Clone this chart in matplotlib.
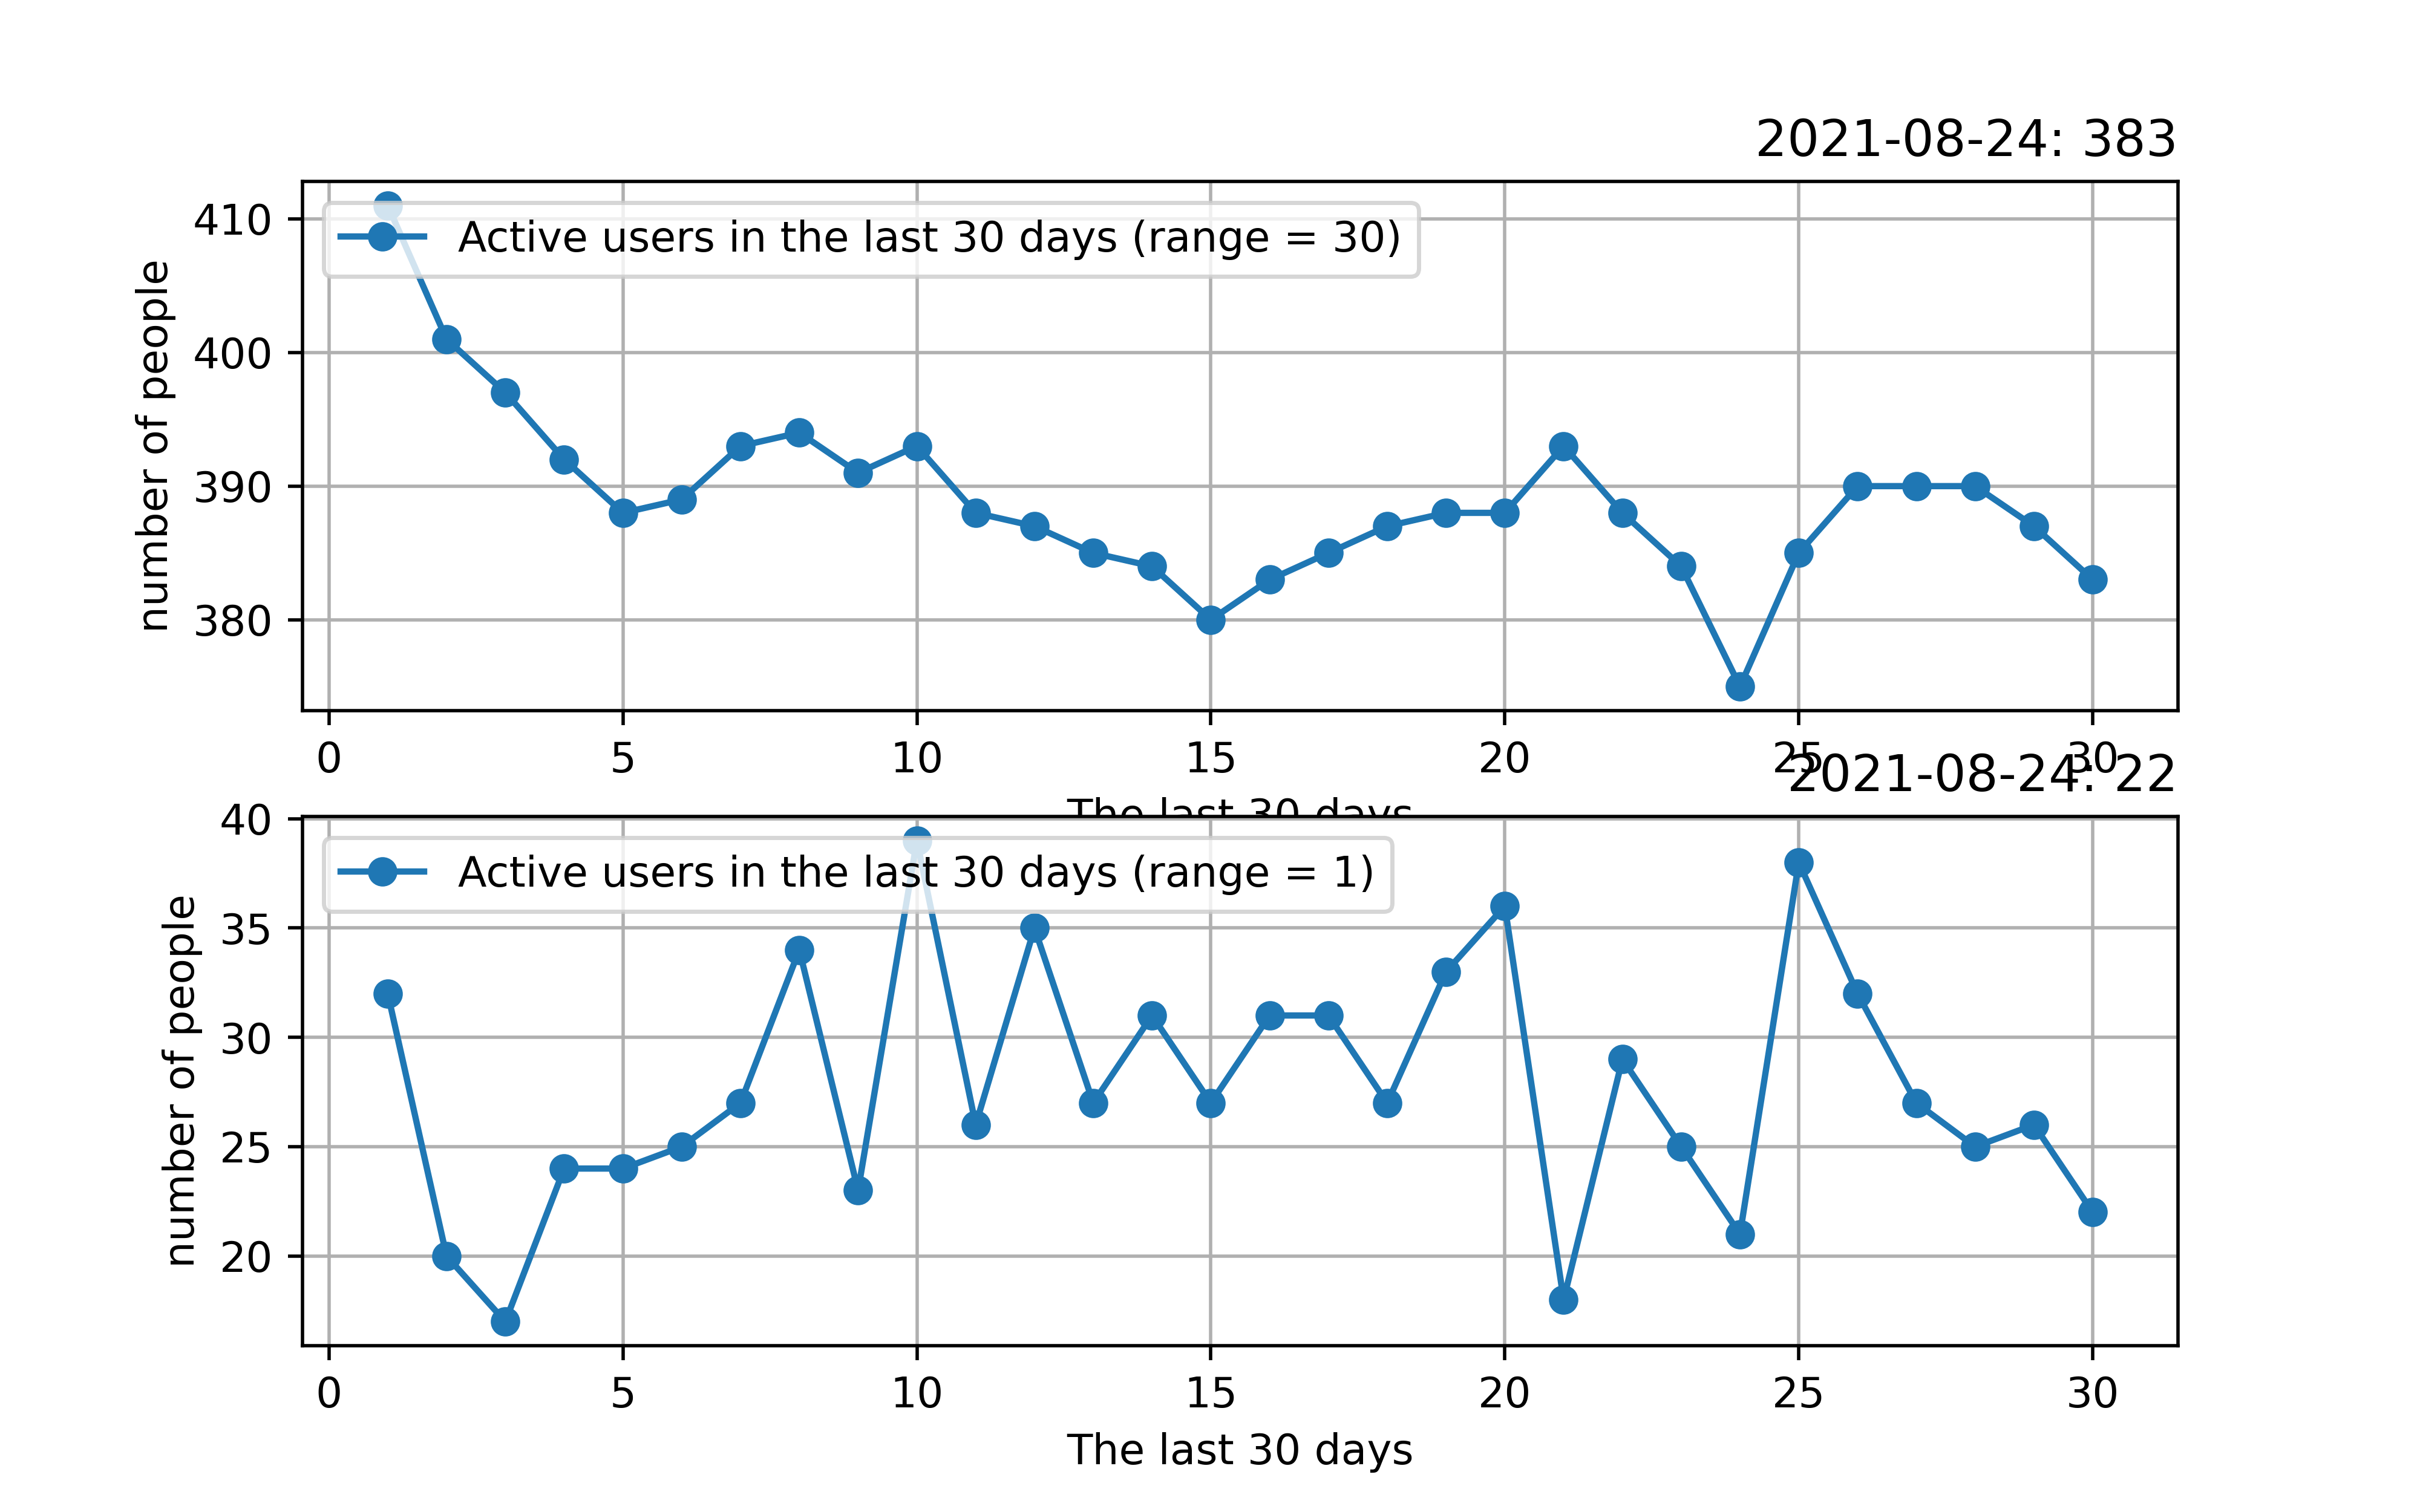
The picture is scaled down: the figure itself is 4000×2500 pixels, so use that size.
import numpy as np
import matplotlib
matplotlib.use('Agg')
import matplotlib.pyplot as plt

days = list(range(1, 31))
active_30 = [411, 401, 397, 392, 388, 389, 393, 394, 391, 393,
             388, 387, 385, 384, 380, 383, 385, 387, 388, 388,
             393, 388, 384, 375, 385, 390, 390, 390, 387, 383]
active_1 = [32, 20, 17, 24, 24, 25, 27, 34, 23, 39,
            26, 35, 27, 31, 27, 31, 31, 27, 33, 36,
            18, 29, 25, 21, 38, 32, 27, 25, 26, 22]
date_str = '2021-08-24'

fig, axs = plt.subplots(2, 1, figsize=(8, 5))

for ax, vals, rng in [(axs[0], active_30, 30), (axs[1], active_1, 1)]:
    ax.plot(days, vals, marker='o', label='Active users in the last 30 days (range = %d)' % rng)
    ax.set_title('%s: %d' % (date_str, vals[-1]), loc='right')
    ax.set_xlabel('The last 30 days')
    ax.set_ylabel('number of people')
    ax.grid(True)
    ax.legend(loc='upper left')

fig.savefig('out.png', dpi=500)
